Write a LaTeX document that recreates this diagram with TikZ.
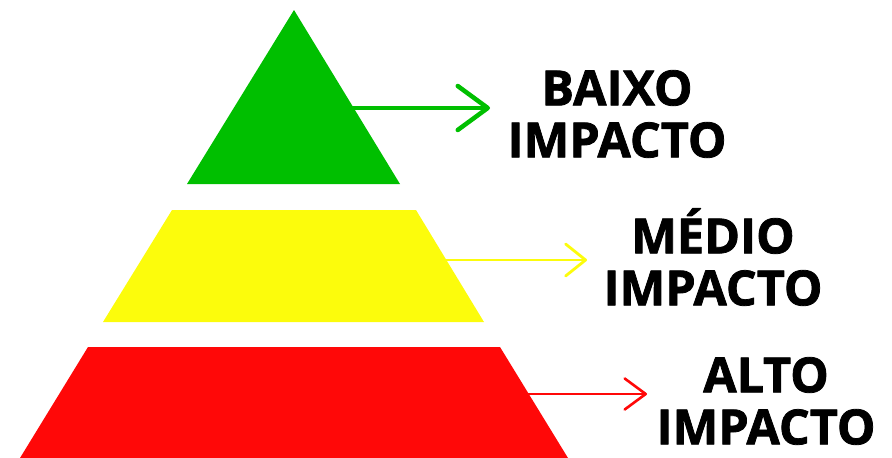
\documentclass[tikz,border=0pt]{standalone}
\usepackage{fontspec}
\setmainfont{Open Sans}[BoldFeatures={FakeBold=1.6}]
\usetikzlibrary{arrows.meta}

\definecolor{nivelverde}{RGB}{0,191,0}
\definecolor{nivelamarelo}{RGB}{252,252,12}
\definecolor{nivelvermelho}{RGB}{255,8,8}

\begin{document}
\begin{tikzpicture}[x=1pt, y=-1pt, line cap=round, line join=round,
    rotulo/.style={anchor=center, inner sep=0pt, align=center,
      font=\fontsize{48.5}{52}\selectfont\bfseries}]

  %% ════ 填充区（三层金字塔）════
  \fill[nivelverde]    (294.0,10.0) -- (400.0,184.0) -- (187.0,184.0) -- cycle;
  \fill[nivelamarelo]  (172.0,210.0) -- (416.0,210.0) -- (484.0,322.0) -- (103.0,322.0) -- cycle;
  \fill[nivelvermelho] (88.0,347.0) -- (500.0,347.0) -- (568.0,458.0) -- (20.0,458.0) -- cycle;

  %% ════ 箭头端点 ════
  \coordinate (verdeA)    at (353.0,108.0);
  \coordinate (verdeB)    at (490.0,108.0);
  \coordinate (amareloA)  at (446.0,260.0);
  \coordinate (amareloB)  at (587.0,260.0);
  \coordinate (vermelhoA) at (528.0,394.0);
  \coordinate (vermelhoB) at (647.0,394.0);

  %% ════ 箭头 ════
  \draw[nivelverde, line width=4.5pt, -{Straight Barb[length=30pt,width=44pt,round]}] (verdeA) -- (verdeB);
  \draw[nivelamarelo, line width=2.8pt, -{Straight Barb[length=20pt,width=32pt,round]}] (amareloA) -- (amareloB);
  \draw[nivelvermelho, line width=2.6pt, -{Straight Barb[length=21pt,width=31pt,round]}] (vermelhoA) -- (vermelhoB);

  %% ════ 标签 ════
  \node[rotulo] (baixo) at (617.0,114.0) {BAIXO\\IMPACTO};
  \node[rotulo] (medio) at (713.0,257.0) {MÉDIO\\IMPACTO};
  \node[rotulo] (alto)  at (766.0,401.0) {ALTO\\IMPACTO};

  % 钉死画布
  \pgfresetboundingbox
  \path[use as bounding box] (0,0) rectangle (892,458);
\end{tikzpicture}
\end{document}
